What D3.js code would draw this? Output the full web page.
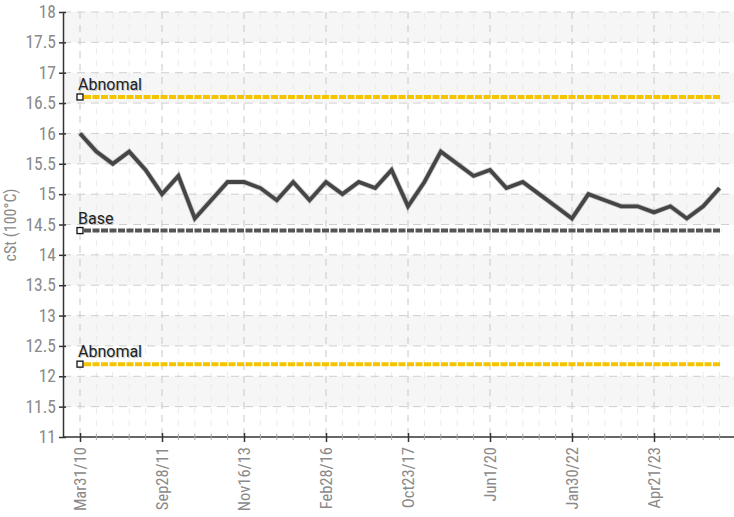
<!DOCTYPE html>
<html>
<head>
<meta charset="utf-8">
<script src="https://cdn.jsdelivr.net/npm/d3@7/dist/d3.min.js"></script>
<style>
  html, body { margin: 0; padding: 0; background: #fff; }
  svg { display: block; }
  text { font-family: "Liberation Sans Narrow", "Roboto Condensed", "DejaVu Sans Condensed", "Roboto", sans-serif; font-stretch: condensed; }
  text.lbl { font-family: "Roboto", sans-serif; font-stretch: normal; }
</style>
</head>
<body>
<svg id="chart" width="734" height="517"></svg>
<script>
// ---- data ----
const values = [16.0, 15.7, 15.5, 15.7, 15.4, 15.0, 15.3, 14.6, 14.9, 15.2,
                15.2, 15.1, 14.9, 15.2, 14.9, 15.2, 15.0, 15.2, 15.1, 15.4,
                14.8, 15.2, 15.7, 15.5, 15.3, 15.4, 15.1, 15.2, 15.0, 14.8,
                14.6, 15.0, 14.9, 14.8, 14.8, 14.7, 14.8, 14.6, 14.8, 15.1];
const tickIndex = [0, 5, 10, 15, 20, 25, 30, 35];
const tickLabels = ["Mar31/10", "Sep28/11", "Nov16/13", "Feb28/16", "Oct23/17", "Jun1/20", "Jan30/22", "Apr21/23"];
const yTicks = [11, 11.5, 12, 12.5, 13, 13.5, 14, 14.5, 15, 15.5, 16, 16.5, 17, 17.5, 18];
const refNames = ["Abnomal", "Base", "Abnomal"];
const refValues = [16.6, 14.4, 12.2];
const refColors = ["#f5c400", "#555555", "#f5c400"];
const yLabel = "cSt (100°C)";

// ---- layout ----
const svg = d3.select("#chart");
const pL = 63, pR = 734, pT = 12, pB = 437;
const x = d3.scaleLinear().domain([0, values.length - 1]).range([80, 719.6]);
const y = d3.scaleLinear().domain([11, 18]).range([pB, pT]);

// alternating background bands
const bands = yTicks.slice(0, -1).map((v, i) => ({ lo: v, hi: yTicks[i + 1], i }));
svg.append("g").selectAll("rect").data(bands.filter(b => (13 - b.i) % 2 === 0)).join("rect")
  .attr("x", pL).attr("width", pR - pL)
  .attr("y", d => y(d.hi)).attr("height", d => y(d.lo) - y(d.hi))
  .attr("fill", "#f6f6f6");

// minor vertical grid (every point)
svg.append("g").selectAll("line").data(d3.range(values.length).filter(i => !tickIndex.includes(i))).join("line")
  .attr("x1", d => x(d)).attr("x2", d => x(d)).attr("y1", pT).attr("y2", pB)
  .attr("stroke", "#ebebeb").attr("stroke-width", 1).attr("stroke-dasharray", "6,6");

// major vertical grid
svg.append("g").selectAll("line").data(tickIndex).join("line")
  .attr("x1", d => x(d)).attr("x2", d => x(d)).attr("y1", pT).attr("y2", pB)
  .attr("stroke", "#c8c8c8").attr("stroke-width", 1).attr("stroke-dasharray", "7,6");

// horizontal grid
svg.append("g").selectAll("line").data(yTicks.slice(1)).join("line")
  .attr("x1", pL).attr("x2", pR).attr("y1", d => y(d)).attr("y2", d => y(d))
  .attr("stroke", "#cfcfcf").attr("stroke-width", 1).attr("stroke-dasharray", "8,6");

// reference lines
const refs = refNames.map((n, i) => ({ name: n, v: refValues[i], c: refColors[i] }));
const rg = svg.append("g");
rg.selectAll("line.ref").data(refs).join("line").attr("class", "ref")
  .attr("x1", x(0) + 4).attr("x2", x(values.length - 1) + 2)
  .attr("y1", d => y(d.v)).attr("y2", d => y(d.v))
  .attr("stroke", d => d.c).attr("stroke-width", 4).attr("stroke-dasharray", "7,1.5");
rg.selectAll("rect.mk").data(refs).join("rect").attr("class", "mk")
  .attr("x", x(0) - 3).attr("y", d => y(d.v) - 3).attr("width", 6).attr("height", 6)
  .attr("fill", "#fff").attr("stroke", "#111").attr("stroke-width", 1.3);
rg.selectAll("text.sh").data(refs).join("text").attr("class", "sh lbl")
  .attr("x", x(0) - 1).attr("y", d => y(d.v) - 6)
  .attr("font-size", 16).attr("fill", "#c4c4c4").text(d => d.name);
rg.selectAll("text.lb").data(refs).join("text").attr("class", "lb lbl")
  .attr("x", x(0) - 2).attr("y", d => y(d.v) - 7)
  .attr("font-size", 16).attr("fill", "#222").text(d => d.name);

// data line
const line = d3.line().x((d, i) => x(i)).y(d => y(d));
svg.append("path").datum(values).attr("d", line)
  .attr("fill", "none").attr("stroke", "#9a9a9a").attr("stroke-width", 5.5).attr("stroke-opacity", 0.5)
  .attr("stroke-linejoin", "miter");
svg.append("path").datum(values).attr("d", line)
  .attr("fill", "none").attr("stroke", "#454545").attr("stroke-width", 3.8)
  .attr("stroke-linejoin", "miter");

// y axis
const yAxis = svg.append("g").attr("transform", `translate(${pL},0)`)
  .call(d3.axisLeft(y).tickValues(yTicks).tickSize(0).tickPadding(7).tickFormat(d3.format("")));
yAxis.attr("font-family", null);
yAxis.select(".domain").attr("stroke", "#333").attr("stroke-width", 1.5);
yAxis.selectAll(".tick text").attr("font-size", 17.5).attr("fill", "#8a8a8a");
yAxis.selectAll(".tick").append("line").attr("x1", -4).attr("x2", 3).attr("stroke", "#333").attr("stroke-width", 1.5);

// x axis
const xAxis = svg.append("g").attr("transform", `translate(0,${pB})`)
  .call(d3.axisBottom(x).tickValues(tickIndex).tickSize(0).tickPadding(0).tickFormat((d, i) => tickLabels[i]));
xAxis.attr("font-family", null);
xAxis.select(".domain").remove();
xAxis.append("line").attr("x1", pL).attr("x2", pR).attr("stroke", "#333").attr("stroke-width", 1.5);
xAxis.selectAll(".tick").append("line").attr("y1", -4).attr("y2", 5).attr("stroke", "#333").attr("stroke-width", 1.5);
xAxis.selectAll(".tick text")
  .attr("font-size", 16.5).attr("fill", "#8a8a8a")
  .attr("transform", "rotate(-90)")
  .attr("text-anchor", "end").attr("x", -10).attr("y", 0).attr("dy", "0.35em");
xAxis.selectAll(".minor").data(d3.range(values.length).filter(i => !tickIndex.includes(i))).join("line")
  .attr("class", "minor").attr("x1", d => x(d)).attr("x2", d => x(d)).attr("y1", -3).attr("y2", 3)
  .attr("stroke", "#aaa").attr("stroke-width", 1);

// y label
svg.append("text")
  .attr("transform", `translate(16,225) rotate(-90)`)
  .attr("text-anchor", "middle").attr("font-size", 16).attr("fill", "#8a8a8a")
  .text(yLabel);
</script>
</body>
</html>
